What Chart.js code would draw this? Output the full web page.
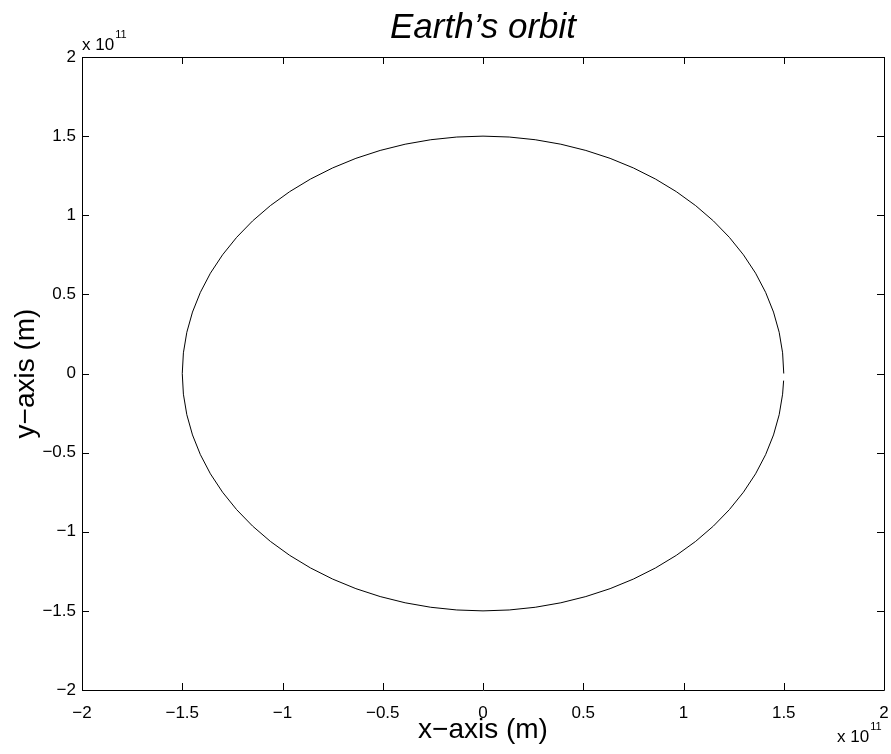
<!DOCTYPE html>
<html>
<head>
<meta charset="utf-8">
<script src="https://cdn.jsdelivr.net/npm/chart.js@4/dist/chart.umd.min.js"></script>
<style>
  html, body { margin: 0; padding: 0; background: #fff; }
  #wrap { width: 891px; height: 754px; }
</style>
</head>
<body>
<div id="wrap"><canvas id="orbit" width="891" height="754"></canvas></div>
<script>
// Orbit positions in units of 1e11 m, start at (1.5, 0), counter-clockwise
const orbitX = [
  1.5000, 1.4943, 1.4772, 1.4489, 1.4095, 1.3595, 1.2990, 1.2287, 1.1491, 1.0607, 0.9642, 0.8604, 0.7500, 0.6339, 0.5130, 0.3882, 0.2605, 0.1307,
  0.0000, -0.1307, -0.2605, -0.3882, -0.5130, -0.6339, -0.7500, -0.8604, -0.9642, -1.0607, -1.1491, -1.2287, -1.2990, -1.3595, -1.4095, -1.4489, -1.4772, -1.4943,
  -1.5000, -1.4943, -1.4772, -1.4489, -1.4095, -1.3595, -1.2990, -1.2287, -1.1491, -1.0607, -0.9642, -0.8604, -0.7500, -0.6339, -0.5130, -0.3882, -0.2605, -0.1307,
  0.0000, 0.1307, 0.2605, 0.3882, 0.5130, 0.6339, 0.7500, 0.8604, 0.9642, 1.0607, 1.1491, 1.2287, 1.2990, 1.3595, 1.4095, 1.4489, 1.4772, 1.4943,
  1.4993
];
const orbitY = [
  0.0000, 0.1307, 0.2605, 0.3882, 0.5130, 0.6339, 0.7500, 0.8604, 0.9642, 1.0607, 1.1491, 1.2287, 1.2990, 1.3595, 1.4095, 1.4489, 1.4772, 1.4943,
  1.5000, 1.4943, 1.4772, 1.4489, 1.4095, 1.3595, 1.2990, 1.2287, 1.1491, 1.0607, 0.9642, 0.8604, 0.7500, 0.6339, 0.5130, 0.3882, 0.2605, 0.1307,
  0.0000, -0.1307, -0.2605, -0.3882, -0.5130, -0.6339, -0.7500, -0.8604, -0.9642, -1.0607, -1.1491, -1.2287, -1.2990, -1.3595, -1.4095, -1.4489, -1.4772, -1.4943,
  -1.5000, -1.4943, -1.4772, -1.4489, -1.4095, -1.3595, -1.2990, -1.2287, -1.1491, -1.0607, -0.9642, -0.8604, -0.7500, -0.6339, -0.5130, -0.3882, -0.2605, -0.1307,
  -0.0450
];
const axisMin = -2;
const axisMax = 2;
const tickStep = 0.5;
const titleText = 'Earth\u2019s orbit';
const xLabel = 'x\u2212axis (m)';
const yLabel = 'y\u2212axis (m)';
const expBase = 'x 10';
const expPower = '11';

const FONT = "'Liberation Sans', Arial, Helvetica, sans-serif";

const fmtTick = v => String(v).replace('-', '\u2212');

// ─── Box, inward ticks and the x10^11 multipliers (MATLAB style) ───────────
const matlabFrame = {
  id: 'matlabFrame',
  afterDraw(chart) {
    const { ctx, chartArea: a, scales } = chart;
    const tl = 7;
    ctx.save();
    ctx.strokeStyle = '#000';
    ctx.lineWidth = 1;
    ctx.beginPath();
    ctx.rect(Math.round(a.left) + 0.5, Math.round(a.top) + 0.5,
             Math.round(a.right - a.left), Math.round(a.bottom - a.top));
    for (const t of scales.x.ticks) {
      const px = Math.round(scales.x.getPixelForValue(t.value)) + 0.5;
      ctx.moveTo(px, a.bottom); ctx.lineTo(px, a.bottom - tl);
      ctx.moveTo(px, a.top);    ctx.lineTo(px, a.top + tl);
    }
    for (const t of scales.y.ticks) {
      const py = Math.round(scales.y.getPixelForValue(t.value)) + 0.5;
      ctx.moveTo(a.left, py);  ctx.lineTo(a.left + tl, py);
      ctx.moveTo(a.right, py); ctx.lineTo(a.right - tl, py);
    }
    ctx.stroke();

    ctx.fillStyle = '#000';
    ctx.textBaseline = 'alphabetic';
    ctx.textAlign = 'left';
    const drawExp = (x, y) => {
      ctx.font = '17px ' + FONT;
      ctx.fillText(expBase, x, y);
      const w = ctx.measureText(expBase).width;
      ctx.font = '11px ' + FONT;
      ctx.fillText(expPower, x + w + 1, y - 12);
    };
    drawExp(a.left, a.top - 7);
    drawExp(a.right - 47, 742);
    ctx.restore();
  }
};

const hiddenGrid = { display: true, drawOnChartArea: false, drawTicks: true, color: 'rgba(0,0,0,0)' };

new Chart(document.getElementById('orbit'), {
  type: 'scatter',
  data: {
    datasets: [{
      data: orbitX.map((x, i) => ({ x, y: orbitY[i] })),
      showLine: true,
      borderColor: '#000',
      borderWidth: 1,
      pointRadius: 0,
      fill: false,
      tension: 0,
    }],
  },
  options: {
    responsive: false,
    animation: false,
    layout: { padding: { top: 0, left: 0, right: 7, bottom: 0 } },
    plugins: {
      legend: { display: false },
      tooltip: { enabled: false },
      title: {
        display: true,
        fullSize: false,
        text: titleText,
        color: '#000',
        font: { family: FONT, size: 35, style: 'italic', weight: 'normal', lineHeight: 1.2 },
        padding: { top: 7.0, bottom: 8.0 },
      },
    },
    scales: {
      x: {
        type: 'linear',
        min: axisMin, max: axisMax,
        grid: { ...hiddenGrid, tickLength: 13 },
        border: { display: false },
        ticks: { stepSize: tickStep, padding: 0, color: '#000', font: { family: FONT, size: 17 }, callback: fmtTick, maxRotation: 0 },
        title: { display: true, text: xLabel, color: '#000', font: { family: FONT, size: 28 }, padding: { top: 0, bottom: 6.9 } },
        afterFit: s => { s.height = 64; },
      },
      y: {
        type: 'linear',
        min: axisMin, max: axisMax,
        grid: { ...hiddenGrid, tickLength: 6 },
        border: { display: false },
        ticks: { stepSize: tickStep, padding: 0, color: '#000', font: { family: FONT, size: 17 }, callback: fmtTick },
        title: { display: true, text: yLabel, color: '#000', font: { family: FONT, size: 28 }, padding: { top: 9, bottom: 0 } },
        afterFit: s => { s.width = 82; },
      },
    },
  },
  plugins: [matlabFrame],
});
</script>
</body>
</html>
